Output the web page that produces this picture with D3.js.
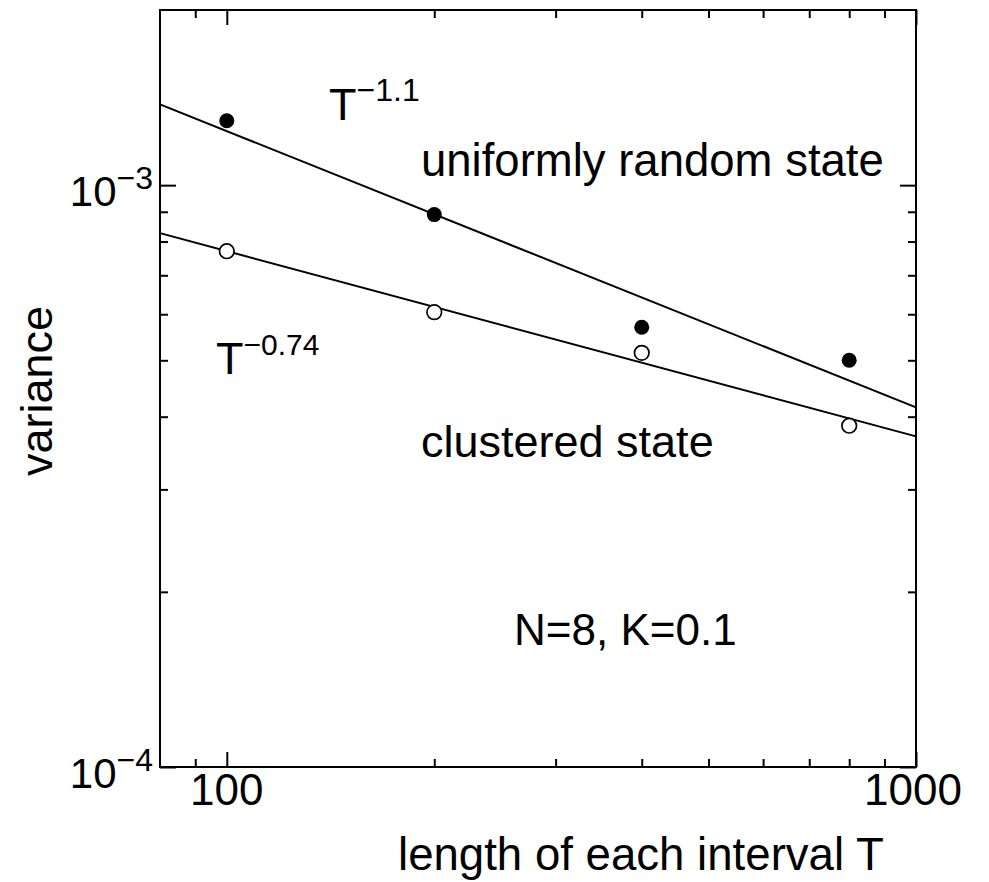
<!DOCTYPE html>
<html>
<head>
<meta charset="utf-8">
<script src="https://cdn.jsdelivr.net/npm/d3@7"></script>
<style>
  body { margin: 0; background: #fff; }
  text { font-family: "Liberation Sans", Arial, Helvetica, sans-serif; fill: #000; }
</style>
</head>
<body>
<div class="content-padded"></div>
<script>
// data
let intervalT = [100, 200, 400, 800];
let uniformVar = [1.29e-3, 8.9e-4, 5.7e-4, 5.0e-4];
let clusteredVar = [7.7e-4, 6.05e-4, 5.15e-4, 3.86e-4];

// fitted power-law lines, end points at the frame edges
let uniformFit = [[80, 1.377e-3], [1000, 4.15e-4]];
let clusteredFit = [[80, 8.27e-4], [1000, 3.70e-4]];

let xMajor = [100, 1000];
let xMinor = [90, 200, 300, 400, 500, 600, 700, 800, 900];
let yMajor = [1e-4, 1e-3];
let yMinor = [2e-4, 3e-4, 4e-4, 5e-4, 6e-4, 7e-4, 8e-4, 9e-4];
let xLabels = ["100", "1000"];
let yLabels = ["\u22124", "\u22123"];

let width = 989;
let height = 882;
let plotLeft = 160, plotRight = 916, plotTop = 10, plotBottom = 767;

let svg = d3.select('.content-padded')
    .append("svg")
    .attr("width", width)
    .attr("height", height);

let xScale = d3.scaleLog()
    .domain([80, 1000])
    .range([plotLeft, plotRight]);

let yScale = d3.scaleLog()
    .domain([1e-4, 2e-3])
    .range([plotBottom, plotTop]);

/* ticks, all pointing inward */
function addAxis(axis, tx, ty) {
    let g = svg.append("g")
        .attr("transform", "translate(" + tx + "," + ty + ")")
        .call(axis);
    g.select(".domain").remove();
    g.selectAll(".tick line").attr("stroke", "#000").attr("stroke-width", 2);
    g.selectAll(".tick text").remove();
}

addAxis(d3.axisBottom(xScale).tickValues(xMajor).tickSize(-15).tickFormat(""), 0, plotBottom);
addAxis(d3.axisBottom(xScale).tickValues(xMinor).tickSize(-8).tickFormat(""), 0, plotBottom);
addAxis(d3.axisTop(xScale).tickValues(xMajor).tickSize(-15).tickFormat(""), 0, plotTop);
addAxis(d3.axisTop(xScale).tickValues(xMinor).tickSize(-8).tickFormat(""), 0, plotTop);
addAxis(d3.axisLeft(yScale).tickValues(yMajor).tickSize(-16).tickFormat(""), plotLeft, 0);
addAxis(d3.axisLeft(yScale).tickValues(yMinor).tickSize(-8).tickFormat(""), plotLeft, 0);
addAxis(d3.axisRight(yScale).tickValues(yMajor).tickSize(-16).tickFormat(""), plotRight, 0);
addAxis(d3.axisRight(yScale).tickValues(yMinor).tickSize(-8).tickFormat(""), plotRight, 0);

// frame
svg.append("rect")
    .attr("x", plotLeft)
    .attr("y", plotTop)
    .attr("width", plotRight - plotLeft)
    .attr("height", plotBottom - plotTop)
    .attr("fill", "none")
    .attr("stroke", "#000")
    .attr("stroke-width", 2);

/* tick labels */
svg.selectAll(".xlab")
    .data(xMajor)
    .enter().append("text")
    .attr("x", d => xScale(d))
    .attr("dx", (d, i) => i == 1 ? -3 : 0)
    .attr("y", 805)
    .attr("text-anchor", "middle")
    .attr("font-size", 44)
    .text((d, i) => xLabels[i]);

let ylab = svg.selectAll(".ylab")
    .data(yMajor)
    .enter().append("text")
    .attr("x", plotLeft - 7)
    .attr("y", d => yScale(d) + 21)
    .attr("text-anchor", "end")
    .attr("font-size", 42);
ylab.append("tspan").text("10");
ylab.append("tspan")
    .attr("dy", -17)
    .attr("font-size", 32)
    .text((d, i) => yLabels[i]);

/* fit lines */
let line = d3.line()
    .x(d => xScale(d[0]))
    .y(d => yScale(d[1]));

[uniformFit, clusteredFit].forEach(function (fit) {
    svg.append("path")
        .attr("d", line(fit))
        .attr("fill", "none")
        .attr("stroke", "#000")
        .attr("stroke-width", 2);
});

/* data points */
svg.selectAll(".uni")
    .data(intervalT)
    .enter().append("circle")
    .attr("cx", d => xScale(d))
    .attr("cy", (d, i) => yScale(uniformVar[i]))
    .attr("r", 7.5)
    .attr("fill", "#000");

svg.selectAll(".clu")
    .data(intervalT)
    .enter().append("circle")
    .attr("cx", d => xScale(d))
    .attr("cy", (d, i) => yScale(clusteredVar[i]))
    .attr("r", 7.3)
    .attr("fill", "#fff")
    .attr("stroke", "#000")
    .attr("stroke-width", 1.7);

/* annotations */
function powerLabel(x, y, exp, supSize) {
    let t = svg.append("text")
        .attr("x", x)
        .attr("y", y)
        .attr("font-size", 45);
    t.append("tspan").text("T");
    t.append("tspan")
        .attr("dy", -19)
        .attr("font-size", supSize)
        .text(exp);
}
powerLabel(329, 120, "\u22121.1", 32);
powerLabel(216, 374, "\u22120.74", 30);

svg.append("text")
    .attr("x", 421)
    .attr("y", 176)
    .attr("font-size", 45.5)
    .text("uniformly random state");

svg.append("text")
    .attr("x", 421)
    .attr("y", 457)
    .attr("font-size", 45)
    .text("clustered state");

svg.append("text")
    .attr("x", 514)
    .attr("y", 645)
    .attr("font-size", 44)
    .text("N=8, K=0.1");

/* axis titles */
svg.append("text")
    .attr("x", 398)
    .attr("y", 870)
    .attr("font-size", 45.6)
    .text("length of each interval T");

svg.append("text")
    .attr("transform", "translate(52,391) rotate(-90)")
    .attr("text-anchor", "middle")
    .attr("font-size", 45)
    .text("variance");
</script>
</body>
</html>
